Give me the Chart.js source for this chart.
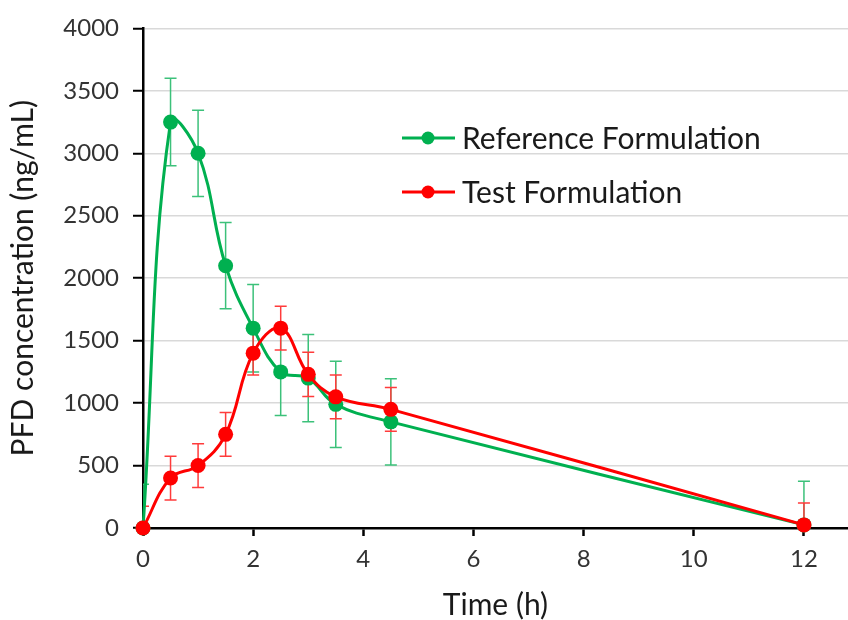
<!DOCTYPE html>
<html>
<head>
<meta charset="utf-8">
<script src="https://cdn.jsdelivr.net/npm/chart.js@4.4.0/dist/chart.umd.min.js"></script>
<style>
  html, body { margin: 0; padding: 0; background: #fff; }
  #wrap { width: 848px; height: 620px; }
</style>
</head>
<body>
<div id="wrap"><canvas id="pkChart" width="848" height="620"></canvas></div>
<script>
// tempos de coleta (h)
const times = [0, 0.5, 1, 1.5, 2, 2.5, 3, 3.5, 4.5, 12];

// concentração média (ng/mL)
const refValues = [0, 3250, 3000, 2100, 1600, 1250, 1200, 990, 850, 25];
const testValues = [0, 400, 500, 750, 1400, 1600, 1230, 1050, 950, 25];

// desvio padrão
const refErrors = [350, 350, 345, 345, 350, 350, 350, 345, 345, 350];
const testErrors = [175, 175, 175, 175, 175, 175, 178, 175, 175, 175];

const seriesNames = ["Reference Formulation", "Test Formulation"];
const xTicks = [0, 2, 4, 6, 8, 10, 12];

const FONT = "Lato, 'Open Sans', sans-serif";
const GREEN = "#00b050";
const RED = "#ff0000";

const toPoints = (vals) => times.map((t, i) => ({ x: t, y: vals[i] }));

// barras de erro desenhadas com as escalas do próprio gráfico
const errorBars = {
  id: "errorBars",
  beforeDatasetsDraw(chart) {
    const { ctx, chartArea, scales } = chart;
    ctx.save();
    ctx.beginPath();
    ctx.rect(chartArea.left, chartArea.top, chartArea.width, chartArea.height);
    ctx.clip();
    chart.data.datasets.forEach((ds) => {
      ctx.strokeStyle = ds.errorColor;
      ctx.lineWidth = 1.5;
      ds.data.forEach((p, i) => {
        const err = ds.errors[i];
        const x = scales.x.getPixelForValue(p.x);
        const yTop = scales.y.getPixelForValue(p.y + err);
        const yBot = scales.y.getPixelForValue(p.y - err);
        ctx.beginPath();
        ctx.moveTo(x, yTop);
        ctx.lineTo(x, yBot);
        ctx.moveTo(x - 6, yTop);
        ctx.lineTo(x + 6, yTop);
        ctx.moveTo(x - 6, yBot);
        ctx.lineTo(x + 6, yBot);
        ctx.stroke();
      });
    });
    ctx.restore();
  },
};

// legenda dentro da área do gráfico
const innerLegend = {
  id: "innerLegend",
  afterDraw(chart) {
    const { ctx } = chart;
    const rows = [
      { label: seriesNames[0], color: GREEN, y: 138 },
      { label: seriesNames[1], color: RED, y: 192 },
    ];
    ctx.save();
    rows.forEach((r) => {
      ctx.strokeStyle = r.color;
      ctx.lineWidth = 3;
      ctx.beginPath();
      ctx.moveTo(402, r.y);
      ctx.lineTo(455, r.y);
      ctx.stroke();
      ctx.fillStyle = r.color;
      ctx.beginPath();
      ctx.arc(428, r.y, 6.5, 0, Math.PI * 2);
      ctx.fill();
      ctx.fillStyle = "#1a1a1a";
      ctx.font = "30px " + FONT;
      ctx.textBaseline = "middle";
      ctx.textAlign = "left";
      ctx.fillText(r.label, 462, r.y + 1);
    });
    ctx.restore();
  },
};

const ctx = document.getElementById("pkChart").getContext("2d");
new Chart(ctx, {
  type: "line",
  data: {
    datasets: [
      {
        label: seriesNames[0],
        data: toPoints(refValues),
        errors: refErrors,
        errorColor: "#3cc17a",
        borderColor: GREEN,
        backgroundColor: GREEN,
        borderWidth: 3,
        pointRadius: 7.5,
        pointHoverRadius: 7.5,
        pointBorderWidth: 0,
        tension: 0.4,
        clip: false,
        order: 2,
      },
      {
        label: seriesNames[1],
        data: toPoints(testValues),
        errors: testErrors,
        errorColor: "#ff3b3b",
        borderColor: RED,
        backgroundColor: RED,
        borderWidth: 3,
        pointRadius: 7.5,
        pointHoverRadius: 7.5,
        pointBorderWidth: 0,
        tension: 0.4,
        clip: false,
        order: 1,
      },
    ],
  },
  options: {
    responsive: false,
    animation: false,
    layout: {
      autoPadding: false,
      padding: { top: 25, right: 0, left: 0, bottom: 0 },
    },
    plugins: {
      legend: { display: false },
      tooltip: { enabled: false },
    },
    scales: {
      x: {
        type: "linear",
        min: 0,
        max: 12.8,
        afterBuildTicks: (scale) => {
          scale.ticks = xTicks.map((v) => ({ value: v }));
        },
        afterFit: (scale) => {
          scale.height = 92;
        },
        border: { display: true, color: "#000", width: 2.5 },
        grid: {
          drawOnChartArea: false,
          drawTicks: true,
          tickLength: 8,
          tickColor: "#000",
          tickWidth: 2.5,
        },
        ticks: {
          color: "#333",
          font: { family: FONT, size: 24 },
          padding: 9,
          maxRotation: 0,
        },
        title: {
          display: true,
          text: "Time (h)",
          color: "#1a1a1a",
          font: { family: FONT, size: 30, lineHeight: 1 },
          padding: { top: 0, bottom: 0 },
        },
      },
      y: {
        type: "linear",
        min: 0,
        max: 4000,
        afterFit: (scale) => {
          scale.width = 143;
        },
        border: { display: true, color: "#000", width: 2.5 },
        grid: {
          color: "#d9d9d9",
          lineWidth: 1.5,
          drawTicks: true,
          tickLength: 10,
          tickColor: "#000",
          tickWidth: 2,
        },
        ticks: {
          stepSize: 500,
          color: "#333",
          font: { family: FONT, size: 24 },
          padding: 14,
          callback: (v) => String(v),
        },
        title: {
          display: true,
          text: "PFD concentration (ng/mL)",
          color: "#1a1a1a",
          font: { family: FONT, size: 30, lineHeight: 1 },
          padding: { top: 8, bottom: 0 },
        },
      },
    },
  },
  plugins: [errorBars, innerLegend],
});
</script>
</body>
</html>
